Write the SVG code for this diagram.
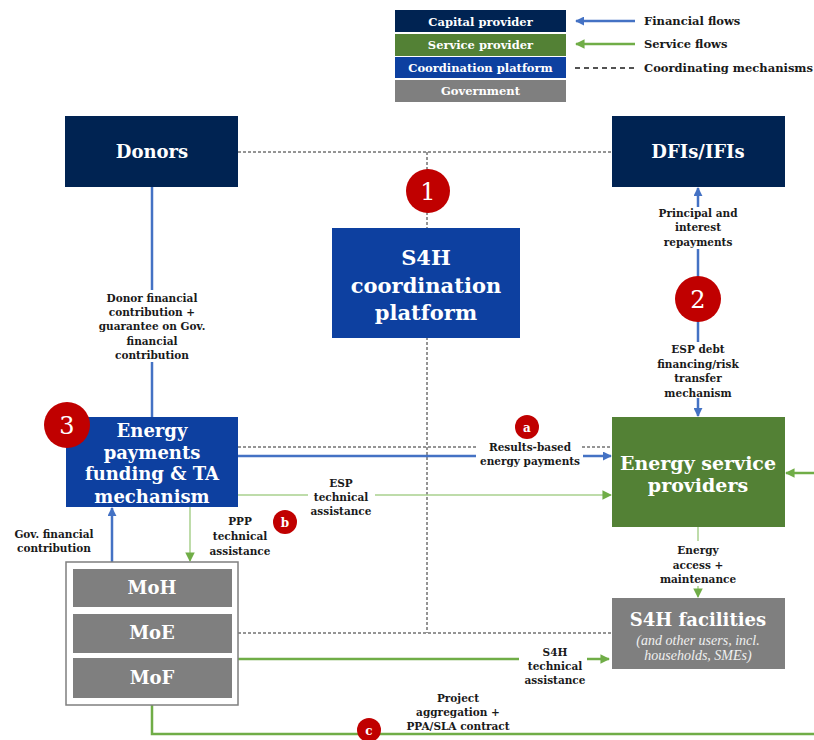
<svg xmlns="http://www.w3.org/2000/svg" width="814" height="740" viewBox="0 0 814 740">
<style>
text{font-family:"DejaVu Serif","Liberation Serif",serif;font-weight:bold;text-anchor:middle}
.w{fill:#ffffff}
.lbl{font-size:10.5px;fill:#1a1a1a}
.leg{font-size:11.5px}
.legr{font-size:11.5px;fill:#1a1a1a;text-anchor:start}
.big{font-size:18px}
.num{font-size:24px;fill:#fff;font-weight:normal}
.sm{font-size:12px;fill:#fff}
.it{font-family:"Liberation Serif",serif;font-size:14px;font-weight:normal;font-style:italic;fill:#f0f0f0}
.dash{stroke:#2a2a2a;stroke-width:1;stroke-dasharray:3 2;fill:none}
.blue{stroke:#4472c4;stroke-width:2.5;fill:none}
.lg{stroke:#a9d18e;stroke-width:1.5;fill:none}
.g{stroke:#70ad47;stroke-width:2.5;fill:none}
.navy{fill:#002352}
.cp{fill:#0d40a0}
.sp{fill:#538135}
.gov{fill:#7f7f7f}
.red{fill:#c00000}
</style>
<defs>
<marker id="ab" viewBox="0 0 10 10" refX="9" refY="5" markerWidth="9" markerHeight="9" orient="auto" markerUnits="userSpaceOnUse"><path d="M0,0 L10,5 L0,10 z" fill="#4472c4"/></marker>
<marker id="agb" viewBox="0 0 10 10" refX="9" refY="5" markerWidth="9.5" markerHeight="9.5" orient="auto" markerUnits="userSpaceOnUse"><path d="M0,0 L10,5 L0,10 z" fill="#70ad47"/></marker>
</defs>

<g id="legend">
<rect x="395" y="10" width="171" height="22" class="navy"/>
<text x="480.5" y="25.5" class="leg w">Capital provider</text>
<rect x="395" y="34" width="171" height="22" class="sp"/>
<text x="480.5" y="49" class="leg w">Service provider</text>
<rect x="395" y="57" width="171" height="21" class="cp"/>
<text x="480.5" y="72" class="leg w">Coordination platform</text>
<rect x="395" y="80" width="171" height="22" class="gov"/>
<text x="480.5" y="95" class="leg w">Government</text>
<line x1="635" y1="21" x2="576" y2="21" class="blue" marker-end="url(#ab)"/>
<text x="644" y="25" class="legr">Financial flows</text>
<line x1="635" y1="44" x2="576" y2="44" class="g" marker-end="url(#agb)"/>
<text x="644" y="48" class="legr">Service flows</text>
<line x1="575" y1="68" x2="635" y2="68" class="dash" style="stroke:#1a1a1a;stroke-width:1.5;stroke-dasharray:5 4"/>
<text x="644" y="72" class="legr">Coordinating mechanisms</text>
</g>

<g id="connectors">
<line x1="238" y1="152" x2="612" y2="152" class="dash"/>
<line x1="427" y1="152" x2="427" y2="633" class="dash"/>
<line x1="238" y1="447" x2="477" y2="447" class="dash"/>
<line x1="582" y1="447" x2="612" y2="447" class="dash"/>
<line x1="238" y1="633" x2="612" y2="633" class="dash"/>
<line x1="152" y1="187" x2="152" y2="290" class="blue"/>
<line x1="152" y1="362" x2="152" y2="417" class="blue"/>
<line x1="112" y1="562" x2="112" y2="508" class="blue" marker-end="url(#ab)"/>
<line x1="238" y1="456" x2="476" y2="456" class="blue"/>
<line x1="583" y1="456" x2="611" y2="456" class="blue" marker-end="url(#ab)"/>
<line x1="698" y1="207" x2="698" y2="188" class="blue" marker-end="url(#ab)"/>
<line x1="698" y1="249" x2="698" y2="277" class="blue"/>
<line x1="698" y1="321" x2="698" y2="342" class="blue"/>
<line x1="698" y1="398" x2="698" y2="416" class="blue" marker-end="url(#ab)"/>
<line x1="238" y1="495" x2="308" y2="495" class="lg"/>
<line x1="375" y1="495" x2="611" y2="495" class="lg" marker-end="url(#agb)"/>
<line x1="190" y1="507" x2="190" y2="561" class="lg" marker-end="url(#agb)"/>
<line x1="698" y1="527" x2="698" y2="541" class="lg"/>
<line x1="698" y1="586" x2="698" y2="597" class="lg" marker-end="url(#agb)"/>
<line x1="238" y1="659" x2="519" y2="659" class="g"/>
<line x1="587" y1="659" x2="609" y2="659" class="g" marker-end="url(#agb)"/>
<polyline points="152,705 152,734 814,734" class="g"/>
<line x1="814" y1="473" x2="786" y2="473" class="g" marker-end="url(#agb)"/>
<g class="lbl">
<text x="152" y="302" class="lbl">Donor financial</text>
<text x="152" y="316" class="lbl">contribution +</text>
<text x="152" y="330" class="lbl">guarantee on Gov.</text>
<text x="152" y="345" class="lbl">financial</text>
<text x="152" y="359" class="lbl">contribution</text>
<text x="698" y="217" class="lbl">Principal and</text>
<text x="698" y="231" class="lbl">interest</text>
<text x="698" y="246" class="lbl">repayments</text>
<text x="698" y="353" class="lbl">ESP debt</text>
<text x="698" y="368" class="lbl">financing/risk</text>
<text x="698" y="382" class="lbl">transfer</text>
<text x="698" y="397" class="lbl">mechanism</text>
<text x="530" y="451" class="lbl">Results-based</text>
<text x="530" y="465" class="lbl">energy payments</text>
<text x="341" y="487" class="lbl">ESP</text>
<text x="341" y="501" class="lbl">technical</text>
<text x="341" y="515" class="lbl">assistance</text>
<text x="240" y="525" class="lbl">PPP</text>
<text x="240" y="540" class="lbl">technical</text>
<text x="240" y="555" class="lbl">assistance</text>
<text x="54" y="538" class="lbl">Gov. financial</text>
<text x="54" y="552" class="lbl">contribution</text>
<text x="698" y="554" class="lbl">Energy</text>
<text x="698" y="569" class="lbl">access +</text>
<text x="698" y="583" class="lbl">maintenance</text>
<text x="555" y="656" class="lbl">S4H</text>
<text x="555" y="670" class="lbl">technical</text>
<text x="555" y="684" class="lbl">assistance</text>
<text x="458" y="702" class="lbl">Project</text>
<text x="458" y="716" class="lbl">aggregation +</text>
<text x="458" y="730" class="lbl">PPA/SLA contract</text>
</g>
</g>

<g id="donors">
<rect x="65" y="116" width="173" height="71" class="navy"/>
<text x="152" y="158" class="big w">Donors</text>
</g>
<g id="dfis">
<rect x="612" y="116" width="173" height="71" class="navy"/>
<text x="698" y="158" class="big w">DFIs/IFIs</text>
</g>
<g id="s4h-platform">
<rect x="332" y="228" width="188" height="110" class="cp"/>
<text x="426" y="265" class="w" style="font-size:21px">S4H</text>
<text x="426" y="293" class="w" style="font-size:21px">coordination</text>
<text x="426" y="320" class="w" style="font-size:21px">platform</text>
</g>
<g id="energy-payments">
<rect x="66" y="417" width="172" height="90" class="cp"/>
<text x="152" y="437" class="big w">Energy</text>
<text x="152" y="459" class="big w">payments</text>
<text x="152" y="480" class="big w">funding &amp; TA</text>
<text x="152" y="503" class="big w">mechanism</text>
</g>
<g id="esp">
<rect x="612" y="417" width="173" height="110" class="sp"/>
<text x="698" y="470" class="w" style="font-size:19px">Energy service</text>
<text x="698" y="492" class="w" style="font-size:19px">providers</text>
</g>
<g id="facilities">
<rect x="612" y="598" width="173" height="71" class="gov"/>
<text x="698" y="626" class="big w">S4H facilities</text>
<text x="698" y="645" class="it">(and other users, incl.</text>
<text x="698" y="660" class="it">households, SMEs)</text>
</g>
<g id="government">
<rect x="66" y="562" width="172" height="143" fill="#ffffff" stroke="#7f7f7f" stroke-width="1.5"/>
<rect x="73" y="569" width="159" height="38" class="gov"/>
<text x="152" y="594" class="big w">MoH</text>
<rect x="73" y="614" width="159" height="39" class="gov"/>
<text x="152" y="639" class="big w">MoE</text>
<rect x="73" y="658" width="159" height="40" class="gov"/>
<text x="152" y="684" class="big w">MoF</text>
</g>
<g id="badge-1"><circle cx="428" cy="191" r="22" class="red"/><text x="428" y="200" class="num">1</text></g>
<g id="badge-2"><circle cx="698" cy="299" r="23" class="red"/><text x="698" y="308" class="num">2</text></g>
<g id="badge-3"><circle cx="67" cy="425" r="23" class="red"/><text x="67" y="434" class="num">3</text></g>
<g id="badge-a"><circle cx="527" cy="427" r="12" class="red"/><text x="527" y="431.5" class="sm">a</text></g>
<g id="badge-b"><circle cx="285" cy="522" r="12" class="red"/><text x="285" y="526.5" class="sm">b</text></g>
<g id="badge-c"><circle cx="369" cy="730" r="12" class="red"/><text x="369" y="734.5" class="sm">c</text></g>
</svg>
